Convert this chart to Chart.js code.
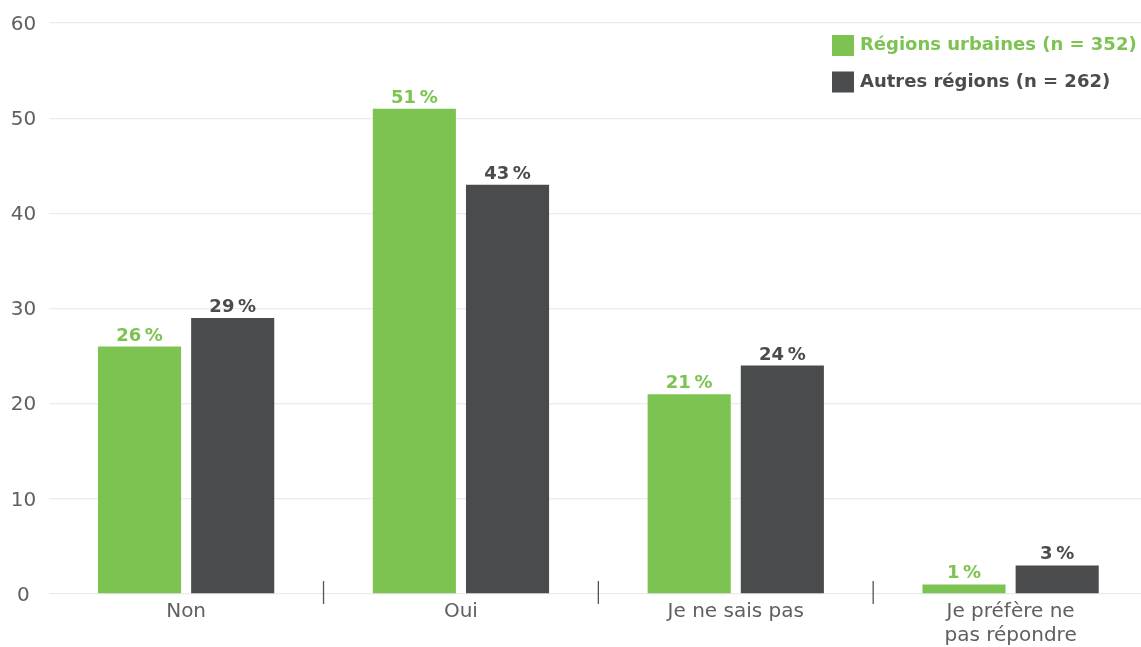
<!DOCTYPE html>
<html lang="fr">
<head>
<meta charset="utf-8">
<title>Régions urbaines et autres régions</title>
<script src="https://cdn.jsdelivr.net/npm/chart.js@4.4.1/dist/chart.umd.min.js"></script>
<style>
  html, body { margin: 0; padding: 0; background: #ffffff; overflow: hidden; }
  #wrap { position: relative; width: 1148px; height: 647px; }
</style>
</head>
<body>
<div id="wrap"><canvas id="chart" width="1148" height="647"></canvas></div>
<script>
// Réponses
const categories = ["Non", "Oui", "Je ne sais pas", ["Je préfère ne", "pas répondre"]];
const seriesNames = ["Régions urbaines (n = 352)", "Autres régions (n = 262)"];
const urbaines = [26, 51, 21, 1];
const autres = [29, 43, 24, 3];
const yTicks = [0, 10, 20, 30, 40, 50, 60];

const GREEN = "#7dc352";
const GRAY = "#4a4b4d";
const TEXT = "#606060";
const FONT = "'DejaVu Sans', 'Noto Sans', sans-serif";

// Pourcentage affiché au-dessus de chaque barre
const valueLabels = {
  id: "valueLabels",
  afterDatasetsDraw(chart) {
    const ctx = chart.ctx;
    ctx.save();
    ctx.font = "bold 18px " + FONT;
    ctx.textAlign = "center";
    ctx.textBaseline = "alphabetic";
    chart.data.datasets.forEach((ds, i) => {
      const meta = chart.getDatasetMeta(i);
      meta.data.forEach((bar, j) => {
        ctx.fillStyle = ds.backgroundColor;
        ctx.fillText(ds.data[j] + "\u2009%", bar.x, bar.y - 6);
      });
    });
    ctx.restore();
  }
};

// Traits verticaux séparant les catégories sur l'axe des x
const separators = {
  id: "separators",
  afterDraw(chart) {
    const x = chart.scales.x;
    const ctx = chart.ctx;
    const y0 = chart.chartArea.bottom;
    ctx.save();
    ctx.strokeStyle = "#555555";
    ctx.lineWidth = 1.3;
    for (let i = 0; i < categories.length - 1; i++) {
      const px = (x.getPixelForValue(i) + x.getPixelForValue(i + 1)) / 2;
      ctx.beginPath();
      ctx.moveTo(px, y0 - 13);
      ctx.lineTo(px, y0 + 10);
      ctx.stroke();
    }
    ctx.restore();
  }
};

// Légende en haut à droite, dans la zone du graphique
const cornerLegend = {
  id: "cornerLegend",
  afterDraw(chart) {
    const ctx = chart.ctx;
    ctx.save();
    ctx.font = "bold 18px " + FONT;
    ctx.textBaseline = "middle";
    ctx.textAlign = "left";
    const left = 832;
    chart.data.datasets.forEach((ds, i) => {
      const cy = 45.5 + i * 36.5;
      ctx.fillStyle = ds.backgroundColor;
      ctx.fillRect(left, cy - 10.5, 22, 21);
      ctx.fillText(ds.label, left + 28, cy);
    });
    ctx.restore();
  }
};

new Chart(document.getElementById("chart"), {
  type: "bar",
  data: {
    labels: categories,
    datasets: [
      { label: seriesNames[0], data: urbaines, backgroundColor: GREEN, borderWidth: 0 },
      { label: seriesNames[1], data: autres, backgroundColor: GRAY, borderWidth: 0 }
    ]
  },
  options: {
    responsive: false,
    animation: false,
    devicePixelRatio: 1,
    layout: { padding: { top: 23, right: 0, bottom: 0, left: 0 } },
    datasets: { bar: { barPercentage: 0.892, categoryPercentage: 0.678 } },
    plugins: {
      legend: { display: false },
      tooltip: { enabled: false }
    },
    scales: {
      x: {
        grid: { display: false },
        border: { display: false },
        ticks: {
          color: TEXT,
          font: { family: FONT, size: 20, lineHeight: 1.2 },
          padding: -2,
          maxRotation: 0,
          autoSkip: false
        },
        afterFit(scale) { scale.height = 53; }
      },
      y: {
        min: 0,
        max: 60,
        afterBuildTicks(scale) { scale.ticks = yTicks.map(v => ({ value: v })); },
        grid: { color: "#ebebeb", lineWidth: 1.3, drawTicks: false },
        border: { display: false },
        ticks: {
          color: TEXT,
          font: { family: FONT, size: 20, lineHeight: 0.6 },
          crossAlign: "center",
          padding: 12.5,
          labelOffset: 1.5
        },
        afterFit(scale) { scale.width = 48.7; }
      }
    }
  },
  plugins: [valueLabels, separators, cornerLegend]
});
</script>
</body>
</html>
